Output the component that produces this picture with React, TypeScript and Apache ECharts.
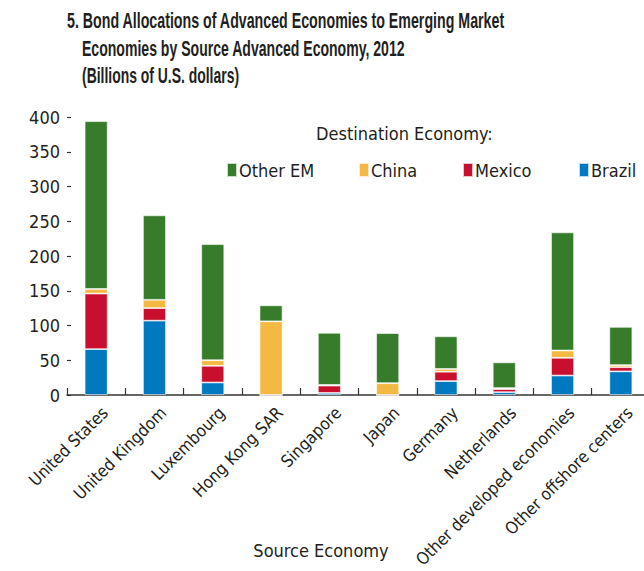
import React, { useEffect, useRef } from "react";
import * as echarts from "echarts";

const categories = [
  "United States",
  "United Kingdom",
  "Luxembourg",
  "Hong Kong SAR",
  "Singapore",
  "Japan",
  "Germany",
  "Netherlands",
  "Other developed economies",
  "Other offshore centers",
];
const brazil = [66, 107, 18, 0, 3, 0, 20, 4, 28, 34];
const mexico = [80, 18, 24, 0, 10.5, 0, 13.5, 4.5, 25.5, 6];
const china = [6.5, 12, 8, 106, 1, 17, 4, 1.5, 10.5, 3];
const otherEM = [241.5, 121.5, 167, 23, 75, 72, 47, 37, 170, 55];
const yTicks = { min: 0, max: 400, interval: 50 };
const titleLines = [
  "5. Bond Allocations of Advanced Economies to Emerging Market",
  "Economies by Source Advanced Economy, 2012",
  "(Billions of U.S. dollars)",
];

const FONT = "'DejaVu Sans Condensed', 'DejaVu Sans', sans-serif";
const TFONT = "'Liberation Sans', Arial, sans-serif";
const TXT = "#231f20";
const COLORS: Record<string, string> = {
  "Other EM": "#367c2b",
  China: "#f4b942",
  Mexico: "#c8102e",
  Brazil: "#0079c1",
};

function measure(text: string, font: string): number {
  const c = document.createElement("canvas");
  const ctx = c.getContext("2d");
  if (!ctx) return 1;
  ctx.font = font;
  return ctx.measureText(text).width || 1;
}

export default function App() {
  const ref = useRef<HTMLDivElement>(null);
  useEffect(() => {
    if (!ref.current) return;
    const chart = echarts.init(ref.current, undefined, { renderer: "svg" });
    const mk = (name: string, data: number[]) => ({
      name,
      type: "bar",
      stack: "total",
      data,
      barWidth: 23,
      itemStyle: {
        color: COLORS[name],
        borderColor: "rgba(255,255,255,0.75)",
        borderWidth: 0.8,
      },
    });
    const legendPos: [string, number][] = [
      ["Other EM", 226],
      ["China", 358],
      ["Mexico", 462],
      ["Brazil", 578],
    ];
    const tFont = `bold 22px ${TFONT}`;
    const titleLayout: [number, number, number][] = [
      [67, 20, 438],
      [82, 47.8, 323],
      [82, 74.8, 157],
    ];
    const titleGraphics = titleLines.map((t, i) => {
      const [x, y, w] = titleLayout[i];
      return {
        type: "text",
        x,
        y,
        scaleX: w / measure(t, tFont),
        style: {
          text: t,
          font: tFont,
          fill: TXT,
          align: "left",
          verticalAlign: "middle",
        },
      };
    });
    chart.setOption({
      animation: false,
      textStyle: { fontFamily: FONT },
      grid: {
        left: 67,
        top: 117,
        width: 583,
        height: 278,
        containLabel: false,
        outerBoundsMode: "none",
      },
      legend: legendPos.map(([name, left]) => ({
        data: [name],
        left,
        top: 161,
        icon: "rect",
        itemWidth: 10,
        itemHeight: 14,
        padding: 0,
        selectedMode: false,
        textStyle: { fontFamily: FONT, fontSize: 18, color: TXT, padding: [0, 0, 0, -3] },
      })),
      xAxis: {
        type: "category",
        data: categories,
        axisLine: { lineStyle: { color: "#333", width: 1.5 } },
        axisTick: { show: true, inside: true, length: 7, lineStyle: { color: "#333", width: 1.2 } },
        axisLabel: {
          rotate: 45,
          fontSize: 17,
          color: TXT,
          fontFamily: FONT,
          margin: 6,
          interval: 0,
          align: "right",
          verticalAlign: "top",
          padding: [4, 0, 0, 0],
        },
      },
      yAxis: {
        type: "value",
        ...yTicks,
        axisLine: { show: false },
        axisTick: { show: true, inside: true, length: 4, lineStyle: { color: "#333", width: 1.2 } },
        splitLine: { show: false },
        axisLabel: { fontSize: 18, color: TXT, fontFamily: FONT, margin: 7 },
      },
      graphic: [
        ...titleGraphics,
        {
          type: "text",
          x: 256,
          y: -2,
          scaleX: 0.75,
          style: { text: "g", font: tFont, fill: TXT, verticalAlign: "bottom" },
        },
        {
          type: "text",
          left: 316,
          top: 124,
          style: { text: "Destination Economy:", font: `18px ${FONT}`, fill: TXT },
        },
        {
          type: "text",
          x: 321,
          y: 550,
          style: {
            text: "Source Economy",
            font: `18px ${FONT}`,
            fill: TXT,
            align: "center",
            verticalAlign: "middle",
          },
        },
      ],
      series: [
        mk("Brazil", brazil),
        mk("Mexico", mexico),
        mk("China", china),
        mk("Other EM", otherEM),
      ],
    });
    return () => chart.dispose();
  }, []);
  return (
    <div
      ref={ref}
      style={{ position: "absolute", left: 0, top: 0, width: 644, height: 571 }}
    />
  );
}
